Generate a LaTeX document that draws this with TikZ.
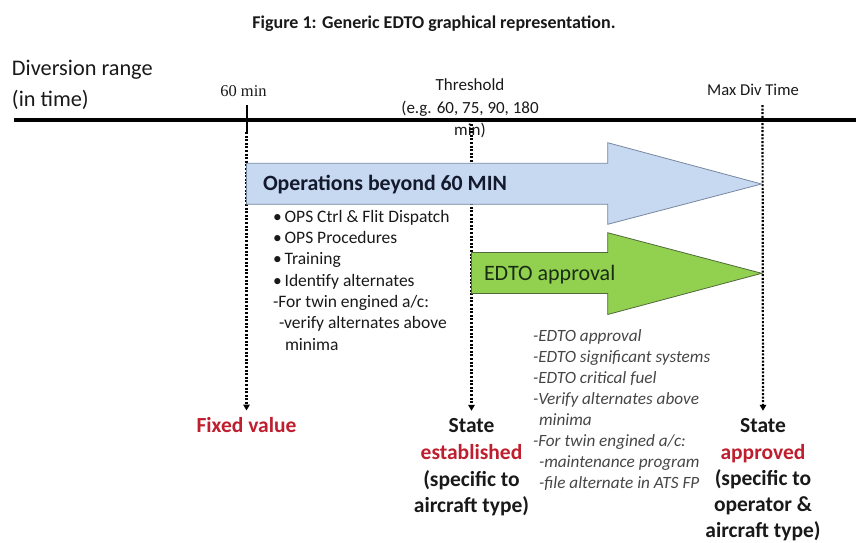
\documentclass[tikz,border=0pt]{standalone}
\usepackage{fontspec}
\setmainfont{Carlito}
\newfontfamily\serifface{Liberation Serif}
\usetikzlibrary{arrows.meta}
\definecolor{arrowblue}{RGB}{198,217,240}
\definecolor{blueedge}{RGB}{120,135,160}
\definecolor{arrowgreen}{RGB}{146,208,80}
\definecolor{greenedge}{RGB}{80,105,60}
\definecolor{darkred}{RGB}{190,30,45}
\definecolor{notegray}{RGB}{70,70,70}
\definecolor{inkblack}{RGB}{25,25,25}
\newcommand{\fsz}[2]{\fontsize{#1}{#2}\selectfont}
\begin{document}
\begin{tikzpicture}[x=1pt,y=-1pt,
  every node/.style={inner sep=0pt, outer sep=0pt, text=inkblack},
  dotline/.style={line width=2.2pt, dash pattern=on 2pt off 1.6pt,
    -{Triangle[length=6pt,width=6.5pt]}},
  bigarrow/.style={line width=0.8pt, line join=miter},
  bottomlabel/.style={anchor=north, align=center, font=\fsz{21.5}{26.7}\bfseries},
  ticklabel/.style={anchor=base, font=\fsz{16.5}{20}}
]
\useasboundingbox (0,0) rectangle (856,542);

% title
\node[anchor=base, font=\fsz{18}{21}\bfseries] (title) at (434,28.3)
  {Figure 1: Generic EDTO graphical representation.};

% axis label
\node[anchor=north west, align=left, font=\fsz{22.3}{31}, text=inkblack] (axislabel) at (12,53)
  {\rule{0pt}{22pt}Diversion range\\(in time)};

% timeline
\coordinate (tlL) at (14,120);
\coordinate (tlR) at (856,120);
\draw[line width=3.5pt, black] (tlL) -- (tlR);

% tick labels
\node[ticklabel, font=\serifface\fsz{16.5}{20}] (t60) at (243.5,96.7) {60 min};
\node[anchor=north, align=center, font=\fsz{17}{22.5}] (tthr) at (470,70.7)
  {\rule{0pt}{20pt}Threshold\\(e.g. 60, 75, 90, 180\\min)};
\node[ticklabel, font=\fsz{16.6}{20}] (tmax) at (753,95.7) {Max Div Time};

% tick marks / start points
\coordinate (c60top) at (246.5,105);
\coordinate (c60) at (246.5,132);
\coordinate (cthr) at (471.5,124);
\coordinate (cmax) at (762.5,105);
\draw[line width=2pt, black] (c60top) -- (c60);

% bottom labels
\node[bottomlabel] (fixed) at (246.5,410.5)
  {\rule{0pt}{22pt}\textcolor{darkred}{Fixed value}};
\node[bottomlabel] (stateE) at (471.5,410.8)
  {\rule{0pt}{22pt}State\\\textcolor{darkred}{established}\\(specific to\\aircraft type)};
\node[bottomlabel, font=\fsz{21.5}{26.2}\bfseries] (stateA) at (763,410.8)
  {\rule{0pt}{22pt}State\\\textcolor{darkred}{approved}\\(specific to\\operator \&\\aircraft type)};

% dotted connectors
\draw[dotline] (c60) -- (fixed.north);
\draw[dotline] (cthr) -- (stateE.north);
\draw[dotline] (cmax) -- (stateA.north);

% blue arrow
\filldraw[bigarrow, fill=arrowblue, draw=blueedge]
  (246.5,163.3) -- (607.7,163.3) -- (607.7,142.7) -- (761.5,184)
  -- (607.7,224.3) -- (607.7,204.3) -- (246.5,204.3) -- cycle;
\node[anchor=base west, font=\fsz{21.8}{26}\bfseries, text={rgb,255:red,20;green,25;blue,45}] (ops60) at (263,190)
  {Operations beyond 60 MIN};

% green arrow
\filldraw[bigarrow, fill=arrowgreen, draw=greenedge]
  (471.5,252.5) -- (607.7,252.5) -- (607.7,232.7) -- (761.7,273.3)
  -- (607.7,314.5) -- (607.7,293.5) -- (471.5,293.5) -- cycle;
\node[anchor=base west, font=\fsz{22}{26}, text={rgb,255:red,25;green,45;blue,20}] (edto) at (484,280)
  {EDTO approval};

% bullet list
\node[anchor=north west, align=left, font=\fsz{17.5}{21.3}] (opslist) at (273,202.2)
  {\rule{0pt}{20pt}•\,OPS Ctrl \& Flit Dispatch\\
   •\,OPS Procedures\\
   •\,Training\\
   •\,Identify alternates\\
   -For twin engined a/c:\\
   \hspace*{6pt}-verify alternates above\\
   \hspace*{12pt}minima};

% requirement list
\node[anchor=north west, align=left, font=\fsz{17.2}{21}\itshape, text=notegray] (reqlist) at (533,321.5)
  {\rule{0pt}{20pt}-EDTO approval\\
   -EDTO significant systems\\
   -EDTO critical fuel\\
   -Verify alternates above\\
   \hspace*{6pt}minima\\
   -For twin engined a/c:\\
   \hspace*{6pt}-maintenance program\\
   \hspace*{6pt}-file alternate in ATS FP};
\end{tikzpicture}
\end{document}
